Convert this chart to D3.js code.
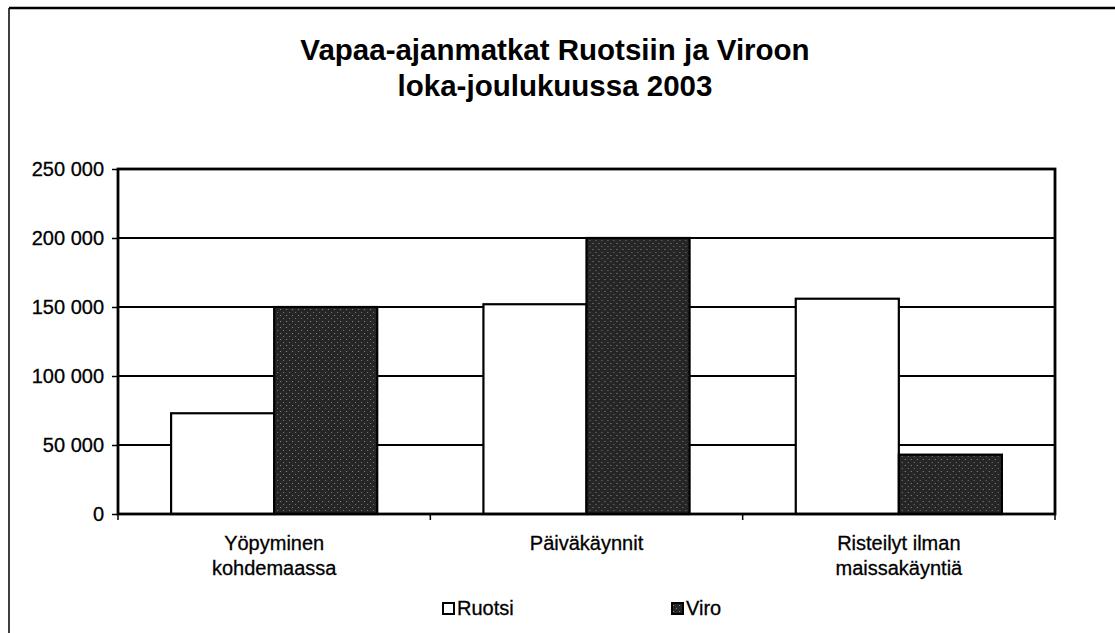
<!DOCTYPE html>
<html>
<head>
<meta charset="utf-8">
<script src="https://cdn.jsdelivr.net/npm/d3@7"></script>
<style>
  body { margin: 0; background: #fff; }
  svg { display: block; font-family: "Liberation Sans", Arial, sans-serif; }
</style>
</head>
<body>
<div id="chart"></div>
<script>
// data
const categories = [["Yöpyminen", "kohdemaassa"], ["Päiväkäynnit"], ["Risteilyt ilman", "maissakäyntiä"]];
const seriesNames = ["Ruotsi", "Viro"];
const ruotsi = [73000, 152000, 156000];
const viro = [150000, 200000, 43000];
const yTicks = [0, 50000, 100000, 150000, 200000, 250000];
const titleLines = ["Vapaa-ajanmatkat Ruotsiin ja Viroon", "loka-joulukuussa 2003"];

const W = 1115, H = 633;
const margin = { top: 169, right: 60, bottom: 119, left: 118 };
const width = W - margin.left - margin.right;
const height = H - margin.top - margin.bottom;

const svg = d3.select("#chart").append("svg").attr("width", W).attr("height", H);

// texture for the dark bars
const defs = svg.append("defs");
const pat = defs.append("pattern")
  .attr("id", "dark")
  .attr("width", 6).attr("height", 6)
  .attr("patternUnits", "userSpaceOnUse");
pat.append("rect").attr("width", 6).attr("height", 6).attr("fill", "#262626");
pat.append("rect").attr("x", 1).attr("y", 2).attr("width", 1).attr("height", 1).attr("fill", "#8a8a8a");
pat.append("rect").attr("x", 4).attr("y", 5).attr("width", 1).attr("height", 1).attr("fill", "#777");

const fills = { Ruotsi: "#fff", Viro: "url(#dark)" };

// outer frame (top and left edges only, as scanned)
svg.append("line").attr("x1", 9).attr("x2", W).attr("y1", 8).attr("y2", 8)
  .attr("stroke", "#000").attr("stroke-width", 2.5);
svg.append("line").attr("x1", 9).attr("x2", 9).attr("y1", 8).attr("y2", H)
  .attr("stroke", "#000").attr("stroke-width", 1.5);

// title
svg.append("g")
  .selectAll("text")
  .data(titleLines)
  .join("text")
  .attr("x", 555)
  .attr("y", (d, i) => 60 + i * 36)
  .attr("text-anchor", "middle")
  .attr("font-size", 29.5)
  .attr("font-weight", "bold")
  .text((d) => d);

const g = svg.append("g").attr("transform", `translate(${margin.left},${margin.top})`);

const x0 = d3.scaleBand()
  .domain(d3.range(categories.length))
  .range([0, width])
  .paddingInner(0.34)
  .paddingOuter(0.17);
const x1 = d3.scaleBand().domain(seriesNames).range([0, x0.bandwidth()]);
const y = d3.scaleLinear().domain([0, 250000]).range([height, 0]);

const fmt = (v) => d3.format(",")(v).replace(/,/g, " ");

// gridlines
g.append("g")
  .selectAll("line")
  .data(yTicks)
  .join("line")
  .attr("x1", 0).attr("x2", width)
  .attr("y1", (d) => y(d)).attr("y2", (d) => y(d))
  .attr("stroke", "#000").attr("stroke-width", 1.8);

// y axis
g.append("g")
  .call(d3.axisLeft(y).tickValues(yTicks).tickFormat(fmt).tickSize(6).tickPadding(8))
  .call((a) => a.select(".domain").remove())
  .call((a) => a.selectAll("line").attr("stroke", "#000").attr("stroke-width", 1.5))
  .call((a) => a.selectAll("text").attr("font-size", 20).attr("fill", "#000")
    .attr("stroke", "#000").attr("stroke-width", 0.3)
    .attr("font-family", "Liberation Sans, Arial, sans-serif"));

// bars
const rows = categories.map((c, i) => ({ i, vals: [ruotsi[i], viro[i]] }));
g.append("g")
  .selectAll("g")
  .data(rows)
  .join("g")
  .attr("transform", (d) => `translate(${x0(d.i)},0)`)
  .selectAll("rect")
  .data((d) => d.vals.map((v, k) => ({ key: seriesNames[k], v })))
  .join("rect")
  .attr("x", (d) => x1(d.key))
  .attr("y", (d) => y(d.v))
  .attr("width", x1.bandwidth())
  .attr("height", (d) => height - y(d.v))
  .attr("fill", (d) => fills[d.key])
  .attr("stroke", "#000")
  .attr("stroke-width", 2.2);

// plot border
g.append("rect")
  .attr("width", width).attr("height", height)
  .attr("fill", "none").attr("stroke", "#000").attr("stroke-width", 2.8);

// x axis ticks between categories
const boundaries = d3.range(categories.length + 1).map((i) => i * width / categories.length);
g.append("g")
  .selectAll("line")
  .data(boundaries)
  .join("line")
  .attr("x1", (d) => d).attr("x2", (d) => d)
  .attr("y1", height).attr("y2", height + 6)
  .attr("stroke", "#000").attr("stroke-width", 1.5);

// category labels
g.append("g")
  .selectAll("text")
  .data(categories)
  .join("text")
  .attr("transform", (d, i) => `translate(${x0(i) + x0.bandwidth() / 2},${height + 36})`)
  .attr("text-anchor", "middle")
  .attr("font-size", 20)
  .attr("stroke", "#000").attr("stroke-width", 0.3)
  .selectAll("tspan")
  .data((d) => d)
  .join("tspan")
  .attr("x", 0)
  .attr("dy", (d, i) => (i === 0 ? 0 : 25))
  .text((d) => d);

// legend
const legendItems = [
  { name: "Ruotsi", x: 443 },
  { name: "Viro", x: 672 }
];
const legend = svg.append("g")
  .selectAll("g")
  .data(legendItems)
  .join("g")
  .attr("transform", (d) => `translate(${d.x},603)`);
legend.append("rect")
  .attr("width", 11).attr("height", 11)
  .attr("fill", (d) => fills[d.name])
  .attr("stroke", "#000").attr("stroke-width", 2);
legend.append("text")
  .attr("x", 14).attr("y", 12)
  .attr("font-size", 20)
  .attr("stroke", "#000").attr("stroke-width", 0.3)
  .text((d) => d.name);
</script>
</body>
</html>
